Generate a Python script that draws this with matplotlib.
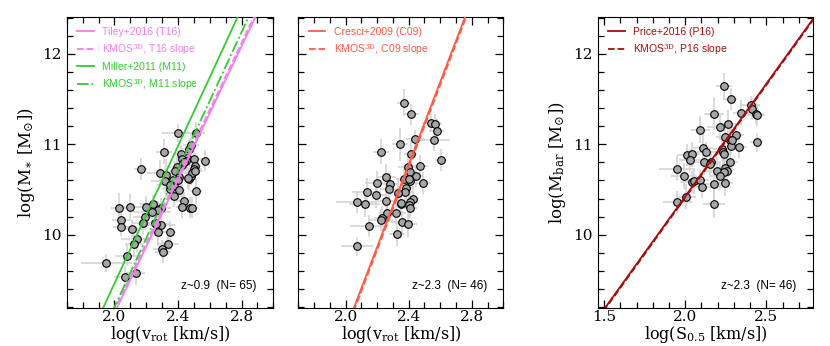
import numpy as np
import matplotlib
matplotlib.use('Agg')
import matplotlib.pyplot as plt
from matplotlib.ticker import MultipleLocator

plt.rcParams['mathtext.fontset'] = 'dejavuserif'

# Panel 1: z~0.9 stellar-mass TFR
x1 = [2.400, 2.513, 2.313, 2.165, 2.417, 2.467, 2.481, 2.458, 2.427, 2.504,
      2.450, 2.423, 2.392, 2.508, 2.502, 2.381, 2.285, 2.323, 2.471, 2.485,
      2.408, 2.402, 2.367, 2.319, 2.377, 2.348, 2.406, 2.569, 2.513, 2.377,
      2.435, 2.427, 2.473, 2.240, 2.198, 2.098, 2.029, 2.294, 2.275, 2.235,
      2.194, 2.044, 2.040, 2.183, 2.256, 2.294, 2.108, 2.273, 2.348, 2.142,
      2.338, 2.302, 2.306, 2.125, 2.081, 1.948, 2.067, 2.135, 2.488, 2.490,
      2.465, 2.510, 2.440, 2.350, 2.260]
y1 = [11.12, 11.13, 10.92, 10.73, 10.89, 10.95, 10.99, 10.85, 10.84, 10.84,
      10.81, 10.77, 10.75, 10.76, 10.73, 10.70, 10.68, 10.66, 10.62, 10.65,
      10.64, 10.61, 10.60, 10.59, 10.54, 10.51, 10.50, 10.82, 10.48, 10.43,
      10.37, 10.31, 10.30, 10.34, 10.31, 10.31, 10.30, 10.29, 10.27, 10.25,
      10.20, 10.16, 10.09, 10.13, 10.13, 10.11, 10.06, 10.03, 10.03, 9.95,
      9.90, 9.84, 9.81, 9.90, 9.77, 9.69, 9.53, 9.58, 10.30, 10.68,
      10.63, 10.70, 10.80, 10.55, 10.12]
xe1 = [0.10, 0.06, 0.05, 0.04, 0.05, 0.04, 0.05, 0.07, 0.04, 0.05,
       0.03, 0.04, 0.06, 0.04, 0.05, 0.04, 0.08, 0.05, 0.04, 0.03,
       0.10, 0.06, 0.05, 0.09, 0.04, 0.05, 0.04, 0.03, 0.04, 0.06,
       0.05, 0.04, 0.05, 0.08, 0.07, 0.06, 0.05, 0.06, 0.05, 0.12,
       0.08, 0.06, 0.05, 0.07, 0.05, 0.09, 0.08, 0.06, 0.04, 0.10,
       0.07, 0.06, 0.05, 0.06, 0.08, 0.16, 0.07, 0.06, 0.04, 0.05,
       0.04, 0.05, 0.06, 0.08, 0.09]
ye1 = [0.10, 0.12, 0.14, 0.12, 0.10, 0.12, 0.15, 0.12, 0.10, 0.14,
       0.12, 0.10, 0.12, 0.14, 0.10, 0.12, 0.15, 0.18, 0.12, 0.10,
       0.12, 0.10, 0.12, 0.14, 0.10, 0.12, 0.10, 0.12, 0.14, 0.12,
       0.10, 0.14, 0.12, 0.10, 0.12, 0.14, 0.16, 0.12, 0.10, 0.12,
       0.15, 0.12, 0.10, 0.12, 0.14, 0.12, 0.10, 0.16, 0.12, 0.14,
       0.12, 0.10, 0.12, 0.14, 0.12, 0.10, 0.12, 0.14, 0.12, 0.10,
       0.12, 0.10, 0.12, 0.10, 0.12]

# Panel 2: z~2.3 stellar-mass TFR
x2 = [2.369, 2.417, 2.542, 2.569, 2.577, 2.563, 2.441, 2.343, 2.225, 2.413,
      2.604, 2.470, 2.394, 2.408, 2.448, 2.258, 2.369, 2.279, 2.201, 2.491,
      2.408, 2.275, 2.380, 2.133, 2.194, 2.375, 2.330, 2.071, 2.120, 2.256,
      2.349, 2.425, 2.408, 2.400, 2.264, 2.322, 2.233, 2.223, 2.355, 2.394,
      2.147, 2.326, 2.073, 2.405, 2.350, 2.410]
y2 = [11.46, 11.33, 11.24, 11.22, 11.15, 11.05, 11.06, 11.00, 10.92, 10.89,
      10.83, 10.76, 10.75, 10.69, 10.65, 10.64, 10.62, 10.56, 10.57, 10.57,
      10.59, 10.51, 10.52, 10.47, 10.44, 10.47, 10.46, 10.36, 10.34, 10.37,
      10.34, 10.40, 10.36, 10.33, 10.24, 10.24, 10.18, 10.16, 10.14, 10.12,
      10.10, 10.01, 9.87, 10.62, 10.35, 10.30]
xe2 = [0.04, 0.05, 0.06, 0.04, 0.05, 0.10, 0.06, 0.05, 0.05, 0.04,
       0.04, 0.05, 0.06, 0.04, 0.05, 0.06, 0.05, 0.06, 0.08, 0.05,
       0.04, 0.06, 0.05, 0.09, 0.06, 0.05, 0.05, 0.13, 0.10, 0.06,
       0.05, 0.04, 0.05, 0.04, 0.05, 0.06, 0.05, 0.08, 0.07, 0.06,
       0.12, 0.05, 0.10, 0.04, 0.05, 0.04]
ye2 = [0.15, 0.12, 0.10, 0.12, 0.14, 0.12, 0.10, 0.18, 0.14, 0.16,
       0.12, 0.12, 0.16, 0.14, 0.12, 0.14, 0.15, 0.12, 0.14, 0.12,
       0.12, 0.14, 0.12, 0.16, 0.14, 0.12, 0.14, 0.12, 0.14, 0.12,
       0.12, 0.14, 0.12, 0.16, 0.14, 0.12, 0.14, 0.12, 0.12, 0.14,
       0.12, 0.14, 0.10, 0.12, 0.12, 0.12]

# Panel 3: z~2.3 baryonic TFR
x3 = [2.240, 2.280, 2.178, 2.346, 2.404, 2.414, 2.435, 2.261, 2.217, 2.093,
      2.313, 2.275, 2.248, 2.331, 2.282, 2.110, 2.224, 2.130, 2.234, 2.238,
      2.012, 2.041, 2.031, 2.441, 2.118, 2.159, 2.275, 1.948, 2.193, 2.244,
      2.255, 2.238, 1.994, 2.213, 2.039, 2.054, 2.089, 2.180, 2.244, 2.106,
      2.006, 1.950, 2.178, 2.290, 2.440, 2.150]
y3 = [11.64, 11.50, 11.34, 11.35, 11.43, 11.39, 11.34, 11.22, 11.19, 11.16,
      11.10, 11.05, 11.08, 10.97, 10.98, 10.96, 10.95, 10.91, 10.91, 10.89,
      10.88, 10.89, 10.83, 11.02, 10.80, 10.80, 10.80, 10.73, 10.70, 10.74,
      10.71, 10.69, 10.65, 10.65, 10.58, 10.59, 10.60, 10.56, 10.57, 10.53,
      10.42, 10.36, 10.34, 11.05, 11.32, 10.78]
xe3 = [0.05, 0.04, 0.06, 0.05, 0.06, 0.04, 0.05, 0.05, 0.08, 0.06,
       0.05, 0.04, 0.06, 0.05, 0.04, 0.06, 0.05, 0.07, 0.05, 0.04,
       0.06, 0.05, 0.07, 0.04, 0.08, 0.06, 0.05, 0.11, 0.08, 0.05,
       0.04, 0.05, 0.08, 0.06, 0.07, 0.05, 0.06, 0.06, 0.05, 0.07,
       0.06, 0.09, 0.07, 0.05, 0.05, 0.06]
ye3 = [0.15, 0.12, 0.18, 0.14, 0.10, 0.12, 0.12, 0.16, 0.14, 0.15,
       0.12, 0.14, 0.16, 0.12, 0.10, 0.16, 0.14, 0.12, 0.16, 0.14,
       0.12, 0.14, 0.12, 0.10, 0.14, 0.12, 0.12, 0.14, 0.16, 0.12,
       0.14, 0.12, 0.14, 0.16, 0.12, 0.14, 0.12, 0.18, 0.14, 0.12,
       0.14, 0.12, 0.16, 0.12, 0.12, 0.14]

# relations: (label, colour, linestyle, slope, value at pivot)
rel1 = [('Tiley+2016 (T16)', '#f27ef0', '-', 3.69, 10.607),
        ('KMOS$^{\\rm 3D}$, T16 slope', '#f27ef0', '--', 3.69, 10.644),
        ('Miller+2011 (M11)', '#33cc33', '-', 3.80, 10.98),
        ('KMOS$^{\\rm 3D}$, M11 slope', '#33cc33', '-.', 3.80, 10.72)]
rel2 = [('Cresci+2009 (C09)', '#ff5a45', '-', 4.56, 10.777),
        ('KMOS$^{\\rm 3D}$, C09 slope', '#ff5a45', '--', 4.56, 10.745)]
rel3 = [('Price+2016 (P16)', '#a50d0d', '-', 2.49, 10.423),
        ('KMOS$^{\\rm 3D}$, P16 slope', '#a50d0d', '--', 2.49, 10.41)]
pivot = [2.4, 2.4, 2.0]
notes = ['z~0.9  (N= 65)', 'z~2.3  (N= 46)', 'z~2.3  (N= 46)']

fig = plt.figure(figsize=(8.3, 3.46), dpi=100)
boxes = [[0.0804, 0.1098, 0.2489, 0.8419],
         [0.3594, 0.1098, 0.2470, 0.8419],
         [0.7201, 0.1098, 0.2598, 0.8419]]
xlims = [(1.7, 3.0), (1.7, 3.0), (1.46, 2.79)]
xmajor = [0.4, 0.4, 0.5]
data = [(x1, y1, xe1, ye1), (x2, y2, xe2, ye2), (x3, y3, xe3, ye3)]
rels = [rel1, rel2, rel3]
xlabels = [r'$\mathrm{log(v_{rot}\ [km/s])}$', r'$\mathrm{log(v_{rot}\ [km/s])}$',
           r'$\mathrm{log(S_{0.5}\ [km/s])}$']
ylabels = [r'$\mathrm{log(M_{\ast}\ [M_{\odot}])}$', None, r'$\mathrm{log(M_{bar}\ [M_{\odot}])}$']

for i in range(3):
    ax = fig.add_axes(boxes[i])
    x, y, xe, ye = data[i]
    ax.errorbar(x, y, xerr=xe, yerr=ye, fmt='none', ecolor='#d4d4d4', elinewidth=1.2, zorder=2)
    ax.scatter(x, y, s=30, facecolor='#a6a6a6', edgecolor='k', linewidth=0.8, zorder=3)
    xx = np.array(xlims[i])
    for lab, col, ls, slope, val in rels[i]:
        ax.plot(xx, val + slope*(xx - pivot[i]), color=col, ls=ls, lw=1.3, label=lab, zorder=4)
    ax.legend(loc='upper left', frameon=False, handlelength=1.6,
              labelcolor='linecolor', borderaxespad=0.6, labelspacing=0.5,
              prop={'family': 'Liberation Sans', 'size': 7.5})
    ax.text(0.92, 0.075, notes[i], transform=ax.transAxes, ha='right', va='center',
            fontsize=8.5, family='Liberation Sans')
    ax.set_xlim(xlims[i])
    ax.set_ylim(9.19, 12.41)
    ax.xaxis.set_major_locator(MultipleLocator(xmajor[i]))
    ax.xaxis.set_minor_locator(MultipleLocator(0.1))
    ax.yaxis.set_major_locator(MultipleLocator(1))
    ax.yaxis.set_minor_locator(MultipleLocator(0.2))
    ax.tick_params(which='both', direction='in', top=True, right=True, labelsize=11)
    ax.tick_params(which='major', length=6, width=0.9)
    ax.tick_params(which='minor', length=4, width=0.9)
    ax.tick_params(axis='x', pad=1.5)
    for lab in ax.get_xticklabels() + ax.get_yticklabels():
        lab.set_family('DejaVu Serif')
    ax.set_xlabel(xlabels[i], fontsize=11.5, labelpad=0)
    if ylabels[i] is None:
        ax.set_yticklabels([])
    else:
        ax.set_ylabel(ylabels[i], fontsize=12, labelpad=4)

fig.savefig('out.png', dpi=100)
